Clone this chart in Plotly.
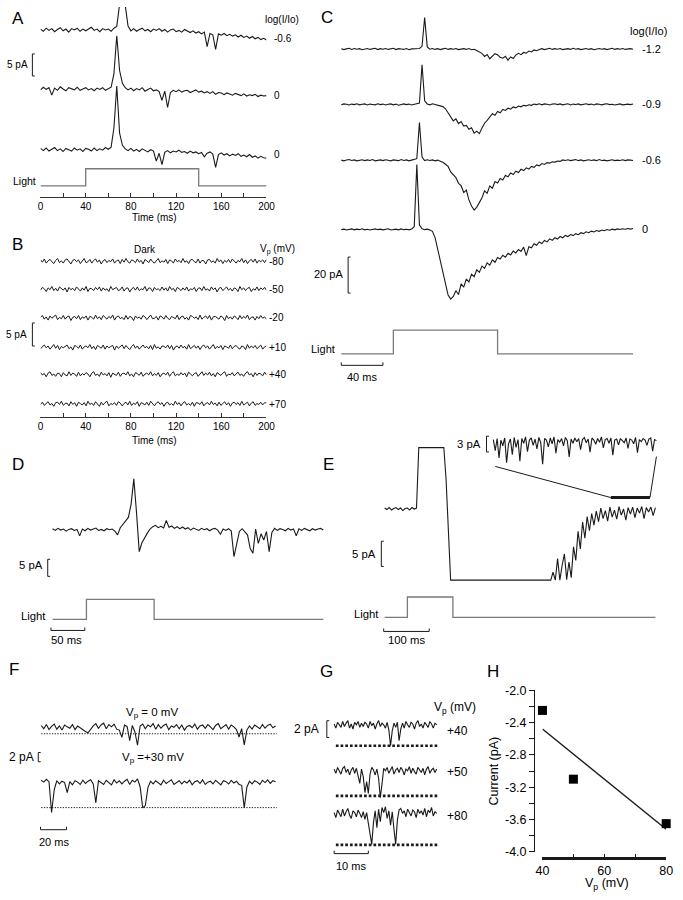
import numpy as np
import plotly.graph_objects as go

# ---- values (currents in pA relative to each sweep's baseline) ----
ab_ticks = [0, 20, 40, 60, 80, 100, 120, 140, 160, 180, 200]
ab_ticktext = ['0', '', '40', '', '80', '', '120', '', '160', '', '200']

a_duration = 200  # ms
a_light_t = [0, 40, 40, 140, 140, 200]
a_light = [0, 0, 1, 1, 0, 0]
a_labels = ['-0.6', '0', '0']
a_sweep1 = [.2,-.3,.4,-.1,.3,-.4,.1,.5,-.2,.2,-.5,.3,0,.4,-.3,.2,-.2,.3,.6,-.1,
            .2,-.4,.3,0,.2,-.3,.4,.8,5.8,6.5,5.6,.9,-.2,.3,-.3,.1,.4,-.2,.1,-.4,
            .2,-.1,.3,-.3,.1,-.5,0,.2,-.4,-.1,-.5,.1,-.3,-.6,-.2,-.7,-.4,-.9,-.5,-3.8,
            -.8,-1.1,-4.4,-.9,-1.2,-.8,-1.3,-1.0,-1.4,-1.1,-1.6,-1.2,-1.7,-1.4,-1.9,-1.5,-2.0,-1.7,-2.2,-1.9,
            -2.3]
a_sweep2 = [-.2,.4,-.1,.3,-1.4,.2,-.3,.5,0,-.4,.3,.1,-.2,.4,-.3,0,.3,-.2,.1,-.4,
            .2,-.1,.3,-.3,.1,.4,3.5,12.1,4.2,1.3,.3,-.2,.2,-.4,.1,-.2,.3,-.5,-.1,.2,
            -.4,-.2,-.6,-2.6,-.5,-4.2,-.8,-.3,-.6,-.2,-.7,-.4,-.3,-.8,-.5,-.2,-.7,-.5,-.9,-.6,
            -1.0,-.6,-1.2,-.8,-.9,-1.3,-.9,-1.1,-1.4,-1.0,-1.3,-1.5,-1.1,-1.6,-1.3,-1.5,-1.2,-1.7,-1.4,-1.6,
            -1.5]
a_sweep3 = [.3,-.2,.4,-.3,.1,.5,-.2,.2,-.4,.3,0,-.3,.4,-.1,.2,-.4,.3,.1,-.3,.4,
            -.2,.2,-.1,.5,.1,.6,5.0,14.5,3.8,1.0,.2,-.2,.3,-.3,.1,-.4,.2,-.1,-.5,0,
            -.3,-2.6,-.8,-3.4,-.6,-.2,-.7,-.3,-.5,-.1,-.6,-.4,-.8,-.3,-.7,-.5,-.9,-.6,-1.6,-.8,
            -.5,-1.0,-4.0,-1.1,-.7,-1.2,-.9,-1.4,-1.0,-1.3,-.9,-1.5,-1.2,-1.6,-1.1,-1.7,-1.4,-1.9,-1.5,-1.8,
            -1.9]

b_duration = 200
b_labels = ['-80', '-50', '-20', '+10', '+40', '+70']
b_sweep1 = [.3,-.2,.5,-.4,.1,.4,-.1,-.5,.2,.6,-.3,.1,-.4,.3,.5,-.2,-.6,.2,.4,-.1,
            .3,-.5,.1,.6,-.3,-.1,.4,-.4,.2,.5,-.2,.3,-.6,.1,.4,-.3,.2,-.1,.5,-.4,
            .1,.3,-.5,.4,-.2,.6,-.1,-.4,.3,.1,-.3,.5,-.2,.2,-.6,.4,.1,-.3,.5,-.1,
            -.4,.2,.6,-.3,.1,-.2,.4,-.5,.3,.1,-.4,.5,-.1,.2,-.3,.6,-.2,.1,-.5,.3,
            .4,-.1,-.3,.5,-.4,.2,.1,-.6,.3,.4,-.2,.1,-.4,.6,-.1,.3,-.5,.2,-.2,.4,
            -.3,.5,.1,-.4,.2,-.1,.6,-.3,.3,-.5,.1,.4,-.2,.5,-.4,.2,-.1,.3,-.3,.4]
b_sweep2 = [-.2,.4,.1,-.5,.3,-.1,.6,-.3,.2,-.4,.5,.1,-.2,.3,-.6,.4,-.1,.2,-.3,.5,
            .1,-.4,.3,-.2,.6,-.5,.2,.1,-.3,.4,-.1,.5,-.4,.3,-.2,.1,-.5,.6,-.1,.2,
            .4,-.3,-.1,.5,-.4,.2,.3,-.6,.1,.4,-.2,.5,-.3,.1,-.1,.6,-.4,.3,.2,-.5,
            .4,-.1,.1,-.3,.5,-.2,.3,-.4,.6,-.1,.2,-.5,.4,.1,-.3,.3,-.2,.5,-.4,.1,
            -.1,.4,-.5,.2,.3,-.3,.6,-.2,.1,-.4,.5,-.1,.3,-.6,.2,.4,-.3,.1,.5,-.2,
            .2,-.4,.3,.1,-.5,.6,-.1,.3,-.3,.2,.4,-.5,.1,-.2,.5,-.3,.3,-.1,.4,-.2]
b_sweep3 = [.1,.5,-.3,.2,-.5,.4,-.1,.3,.6,-.4,.1,-.2,.5,-.3,.2,.4,-.6,.1,.3,-.2,
            .5,-.4,.2,-.1,.4,-.5,.3,.1,-.3,.6,-.2,.2,-.4,.5,.1,-.3,.3,-.1,.6,-.5,
            .2,.4,-.2,.1,-.4,.5,-.3,.3,.1,-.6,.4,-.1,.2,-.3,.5,.2,-.4,.1,.6,-.2,
            -.1,.3,-.5,.4,.2,-.3,.5,-.1,-.4,.3,.1,-.2,.6,-.4,.2,.4,-.3,.1,-.5,.5,
            .3,-.1,.2,-.4,.6,-.3,.1,.4,-.2,.5,-.5,.2,.3,-.1,-.3,.4,.1,-.6,.5,-.2,
            .2,-.3,.4,.1,-.4,.5,-.2,.3,-.1,.6,-.4,.1,.2,-.5,.3,-.2,.5,-.1,.2,-.3]
b_sweep4 = [-.3,.2,.5,-.1,.3,-.4,.1,.6,-.2,.4,-.5,.2,-.1,.3,.5,-.3,.1,-.6,.4,.2,
            -.2,.5,-.4,.1,.3,-.1,.6,-.3,.2,-.5,.4,.1,-.2,.5,-.4,.3,-.1,.2,.4,-.6,
            .3,-.2,.1,.5,-.3,.4,-.1,-.5,.2,.6,-.2,.3,-.4,.1,.5,-.1,.2,-.3,.4,-.5,
            .6,-.2,.1,-.4,.3,.2,-.1,.5,-.3,.4,-.6,.1,.3,-.2,.5,-.1,.2,-.4,.6,-.3,
            .1,.4,-.2,.3,-.5,.2,.5,-.1,.3,-.4,.1,.6,-.3,.2,-.1,.4,-.5,.3,.1,-.2,
            .5,-.3,.2,.4,-.1,-.4,.3,.1,-.5,.6,-.2,.3,-.1,.4,-.3,.2,.5,-.4,.1,.3]
b_sweep5 = [.4,-.1,.2,-.5,.3,.6,-.2,.1,-.4,.3,.2,-.5,.4,-.1,-.3,.6,-.2,.3,.1,-.4,
            .5,-.3,.2,-.1,.4,.1,-.5,.3,.6,-.2,.1,-.4,.5,-.1,.2,-.3,.4,-.6,.3,.1,
            -.2,.5,-.4,.2,.3,-.1,.6,-.3,.1,-.5,.4,.2,-.2,.5,-.4,.1,.3,-.1,.6,-.3,
            .2,-.2,.4,-.5,.1,.3,-.1,.5,-.4,.2,.6,-.3,.1,-.2,.4,-.1,.3,-.5,.5,.1,
            -.3,.2,.4,-.4,.1,.6,-.2,.3,-.1,.5,-.3,.2,-.5,.4,.1,-.2,.3,.6,-.4,.1,
            -.1,.4,-.3,.2,.5,-.2,.1,-.4,.3,.6,-.1,.2,-.5,.4,-.2,.3,.1,-.3,.5,-.1]
b_sweep6 = [-.1,.4,-.3,.2,.5,-.2,.1,-.5,.3,.4,-.1,.6,-.3,.1,.2,-.4,.5,-.1,.3,-.5,
            .4,.1,-.2,.3,-.4,.6,-.1,.2,-.3,.5,.1,-.5,.4,-.2,.3,.6,-.4,.1,-.1,.3,
            -.3,.5,.2,-.4,.1,.4,-.2,.6,-.3,.2,-.1,.5,-.5,.3,.1,-.2,.4,-.3,.6,.1,
            -.4,.2,.5,-.1,.3,-.5,.2,.4,-.2,.1,-.3,.6,-.1,.3,-.4,.2,.5,-.2,.1,-.3,
            .4,-.5,.3,.2,-.1,.5,-.4,.1,.3,-.2,.6,-.1,.2,-.4,.4,-.3,.1,.5,-.2,.3,
            -.5,.2,.4,-.1,.3,-.3,.6,-.2,.1,.4,-.4,.2,.5,-.3,.1,-.1,.4,-.2,.3,.2]

c_duration = 280
c_light_t = [0, 50, 50, 150, 150, 280]
c_light = [0, 0, 1, 1, 0, 0]
c_labels = ['-1.2', '-0.9', '-0.6', '0']
c_sweep1 = [.2,-.3,.1,.4,-.2,.3,-.1,.2,-.4,.1,.3,-.2,0,.4,-.3,.2,-.1,.3,-.2,.1,.4,-.3,.2,0,-.2,.3,-.4,.1,.2,-.1,.3,
            1.5,17.5,1.2,
            -.1,.3,-.2,.2,-.3,.1,.4,-.2,.2,-.1,.3,-.3,.1,.2,-.2,.3,-.4,-.1,
            -.8,-1.5,-2.4,-4.1,-3.0,-5.4,-3.9,-2.6,-3.2,-4.6,-5.1,-4.0,-6.2,-4.4,-5.3,-3.4,-2.4,-3.1,-1.9,-2.3,
            -1.1,-1.6,-.5,-.9,-.2,
            .2,-.3,.1,.4,-.2,.2,-.1,.3,-.3,.1,.2,-.2,.4,-.1,.2,-.3,.1,.3,-.2,.2,-.4,.1,.3,-.1,.2,-.3,.1,.4,-.2,.2,
            -.1,.3,-.2,.1,.2,-.1]
c_sweep2 = [-.2,.3,.1,-.3,.2,-.1,.4,-.2,.1,.3,-.3,.2,0,-.2,.4,-.1,.2,-.3,.1,.3,-.2,.2,-.4,.1,.3,-.1,.2,-.3,.1,.2,
            .8,22,2.0,
            .3,-.2,.4,.1,-.2,
            -.6,-1.2,-2.4,-4.5,-6.8,-9.1,-8.0,-10.6,-9.5,-12.0,-11.6,-13.8,-12.9,-15.9,-14.8,-16.2,-13.1,-10.4,-8.8,
            -7.2,-5.1,-6.0,-3.9,-4.6,-2.8,-3.3,-2.1,-2.6,-1.4,-1.9,-.9,-1.3,-.5,-.8,-.2,-.5,
            .2,-.1,.4,-.2,.3,.1,-.3,.2,.4,-.1,.3,-.2,.1,.4,-.3,.2,0,.3,-.2,.1,.4,-.1,.2,-.3,.3,.1,-.2,.2,.4,-.1,
            .1,-.3,.2,.3,-.2,.1,.2,-.1,.3]
c_sweep3 = [.1,-.3,.2,.4,-.1,.2,-.3,.1,.3,-.2,.2,-.1,.4,-.3,.1,.2,-.2,.3,0,-.3,.2,.1,-.2,.4,-.1,.2,-.3,.1,.3,
            .9,21,1.8,
            -.2,.3,-.1,.2,-.3,.1,
            -.5,-1.1,-2.2,-3.4,-6.5,-8.0,-9.6,-12.8,-14.1,-17.9,-16.5,-22.0,-25.4,-27.6,-26.0,-23.5,-20.8,-17.0,
            -18.3,-14.2,-15.5,-11.8,
            -12.6,-10.1,-10.9,-8.3,-9.2,-7.0,-7.9,-6.1,-6.8,-5.0,-5.7,-4.2,-4.9,-3.4,-3.9,-2.6,-3.1,-1.8,-2.3,-1.3,
            -1.6,-.8,-1.0,-.4,-.6,
            .2,-.1,.3,-.2,.1,.4,-.2,.2,-.3,.1,.3,-.1,.2,-.2,.4,-.1,.1,-.3,.2,.3,-.2,.1,-.1,.3,-.2,.2,.1,-.1]
c_sweep4 = [-.1,.2,-.3,.1,.3,-.2,.2,-.1,.4,-.2,.1,-.3,.2,.3,-.1,.2,-.2,.1,.4,-.3,.1,.2,-.2,.3,-.1,.1,-.2,.3,
            1.5,36,2.5,
            .4,-.1,.2,-.3,-1.0,
            -4.5,-11.2,-17.8,-24.6,-31.0,-36.4,-38.6,-37.2,-34.0,
            -36.1,-30.2,-32.0,-27.5,-29.1,-24.8,-26.2,-22.4,-23.8,-20.3,-21.6,-18.5,-19.8,-16.9,-18.2,-15.6,
            -16.4,-14.3,-15.4,-13.2,
            -14.1,-12.0,-13.0,-11.1,-12.2,-9.8,-14.5,-9.6,-10.2,-7.9,-8.8,-6.9,-7.8,-6.1,-6.9,-5.2,-6.0,-4.6,
            -5.3,-3.9,-4.6,-3.3,-3.9,-2.8,
            -3.4,-2.3,-2.9,-1.8,-2.3,-1.3,-1.8,-.9,-1.4,-.6,-1.0,-.3,-.7,0,-.4,.2,-.2,.3,0,.4,.1,.5,.2,.5]

d_duration = 400
d_light_t = [0, 50, 50, 150, 150, 400]
d_light = [0, 0, 1, 1, 0, 0]
d_sweep = [.3,-.2,.4,-.1,.2,-.4,.1,.3,-.2,.1,-1.8,
           .2,-.3,.4,-.1,.2,.5,-.2,.1,-.3,.3,0,.2,-.4,-1.5,
           .6,1.5,2.7,3.6,7.5,14.9,5.0,-6.4,-3.8,-2.2,-1.0,.2,.9,1.3,.6,1.0,.5,2.7,
           .7,1.1,.4,.9,.3,.8,.2,.6,-.1,.5,.2,-.2,.4,0,.3,-.3,.2,.4,-.1,-1.3,.2,-.2,.3,
           -.4,-7.9,-4.0,-.5,.3,-.6,-1.5,-5.5,-6.9,.2,-4.0,-1.2,-3.0,-.5,-6.4,-.8,
           .4,-.2,.3,.1,-.3,.4,-.1,.2,-1.8,.3,-.2,.4,0,-.3,.3,-.1,.2,.4,-.1]

e_duration = 595
e_light_t = [0, 50, 50, 150, 150, 595]
e_light = [0, 0, 1, 1, 0, 0]
e_sweep = [.2,-.1,.3,-.2,.1,.3,-.1,.2,-.3,.1,.2,-.2,.3,0,.2,
           12.2,12.2,12.2,12.2,12.2,12.2,12.2,12.2,12.2,12.2,12.2,12.2,
           5.9,-4.6,
           -14.1,-14.1,-14.1,-14.1,-14.1,-14.1,-14.1,-14.1,-14.1,-14.1,-14.1,
           -14.1,-14.1,-14.1,-14.1,-14.1,-14.1,-14.1,-14.1,-14.1,-14.1,-14.1,
           -14.1,-14.1,-14.1,-14.1,-14.1,-14.1,-14.1,-14.1,-14.1,-14.1,-14.1,
           -14.1,-14.1,-14.1,-14.1,-14.1,-14.1,-14.1,-14.1,-14.1,-14.1,-14.1,
           -14.1,-12.5,-14.1,-9.8,-14.1,-11.2,-8.9,-14.0,-10.5,-13.6,
           -7.5,-10.2,-4.4,-7.9,-2.6,-5.8,-1.5,-4.3,-.9,-3.2,-.4,-2.5,.2,-1.9,-.3,-2.4,.4,-1.6,-.2,-2.0,
           .5,-1.2,0,-2.2,.3,-1.0,.4,-1.7,.2,-.8,.5,-1.9,.3,-.6,.4,-1.3,.3]
e_zoom_t = [497, 583]  # stretch of the sweep shown enlarged in the inset
e_inset_duration = 86
e_inset = [.3,-1.8,.5,-3.2,.2,-.9,.6,-4.1,-.5,.4,-2.6,.7,-1.2,.3,-3.8,.5,-.4,.8,-2.0,.2,.6,-.8,.4,-1.5,.7,
           -.3,-4.4,.5,.2,-1.1,.6,-.5,.8,-2.3,.3,-.2,.5,-.9,.7,.1,-3.0,.4,-.4,.6,-.1,.5,-1.6,.3,.7,-.3,
           .4,-2.1,.6,.2,-.6,.5,-.2,.8,-1.3,.3,.5,-.4,.6,-2.7,.2,.4,-.7,.5,.1,-.3,.6,-1.4,.4,.2,-.5,
           .7,-2.2,.3,-.1,.5,.2,-.8,.4,.6,-1.9,.3,.1]

f_duration = 180
f_labels = ['V<sub>p</sub> = 0 mV', 'V<sub>p</sub> =+30 mV']
f_open = [-1.4, -5.35]
f_sweep1 = [.4,-.3,.6,-.5,.2,.7,-.4,.3,-.6,.5,.1,-.2,.6,-.5,.3,-.1,-.6,-.9,-1.2,-.4,
            .3,.8,-.2,.5,.9,-.3,.6,.1,.7,-.4,-.6,-2.2,.5,.2,-2.9,.4,-1.0,-3.9,.3,.7,
            -.3,.5,.1,.8,-.4,.6,-.2,.4,.7,-.5,.3,0,.6,-.3,.5,-.6,.2,.4,-.1,.7,
            -.4,.3,.5,-.2,.6,.1,-.5,.4,.8,-.3,.2,.6,-.4,.5,.1,-.5,-2.1,-.3,-3.8,-.6,
            .3,-.4,.5,.1,-.3,.6,-.2,.4,.7,-.1,.3]
f_sweep2 = [.6,.2,.8,.3,-6.4,-1.5,.5,-.2,.4,.1,-2.1,.3,-.4,.5,.2,-.3,.6,-.1,.4,.7,
            -.2,-4.3,.5,.1,-.3,.6,.2,-.4,.7,0,.5,-.2,.4,.8,-.3,.6,.2,.9,-.8,-5.4,
            -4.9,-1.0,.4,-.2,.5,.1,-.4,.6,-.1,.3,.7,-.3,.2,.5,-.2,.4,0,.6,-.4,.3,
            .5,-.1,.7,-.3,.2,.4,-.2,.6,.1,-.4,.5,.3,-.2,.6,0,.4,-.3,-.5,-5.4,-.9,
            .4,-.2,.5,.2,-.3,.6,.1,.7,-.1,.5,.3]

g_duration = 30
g_labels = ['+40', '+50', '+80']
g_open = [-2.4, -2.9, -3.65]
g_sweep1 = [.2,-.3,.4,.1,-.2,.5,-.1,.3,.6,-.3,.2,-.4,.4,.1,.5,-.2,.3,-.1,.4,.2,-.3,.5,0,.3,-.4,.2,.6,-.1,.3,.1,
            -.3,.4,-.5,-2.4,-.6,.3,-.2,.4,-1.8,-.4,
            .3,-.3,.5,.1,-.2,.4,.2,-.4,.3,.6,-.1,.2,-.3,.4,.1,-.2,.5,.2,-.3,.3,.1]
g_sweep2 = [.3,-.2,.5,.1,-.3,.4,.6,-.1,.3,-.4,.2,.5,-.2,.4,-.5,
            -1.4,.3,-.6,-2.5,-1.2,-2.6,-.3,.5,.2,-.4,.3,-.8,-3.1,-1.5,.4,
            .1,.5,-.2,.3,.6,-.3,.2,.4,-.1,.5,.2,-.4,.3,.1,.6,-.2,.4,0,-.3,.5,.2,-.1,.4,-.4,.3,.6,-.2,.2,.4,-.1,.3]
g_sweep3 = [.2,-.4,.5,.1,-.3,.6,-.2,.3,.7,-.1,-.5,.4,.2,-.3,.5,.1,-.4,.3,-.6,.2,
            -1.1,-2.2,-3.6,-1.0,.4,-1.6,.6,-.9,.8,.2,.9,-.5,.4,-1.3,.3,-1.8,-3.6,-.7,.5,
            .7,.1,.4,-.3,.6,.2,-.2,.5,.3,-.4,.6,.1,.4,-.1,.7,-.3,.5,.2,.8,-.2,.3,.1]

h_vp = [40, 50, 80]
h_current = [-2.25, -3.1, -3.65]
h_fit_vp = [40, 80]
h_fit_current = [-2.48, -3.72]
h_xticks = [40, 50, 60, 70, 80]
h_xticktext = ['40', '', '60', '', '80']
h_yticks = [-4.0, -3.8, -3.6, -3.4, -3.2, -3.0, -2.8, -2.6, -2.4, -2.2, -2.0]
h_yticktext = ['-4.0', '', '-3.6', '', '-3.2', '', '-2.8', '', '-2.4', '', '-2.0']

# scale bars: (pA, ms)
a_bar_pa = 5
b_bar_pa = 5
c_bar_pa, c_bar_ms = 20, 40
d_bar_pa, d_bar_ms = 5, 50
e_bar_pa, e_bar_ms = 5, 100
e_inset_bar_pa = 3
f_bar_pa, f_bar_ms = 2, 20
g_bar_pa, g_bar_ms = 2, 10

# ---- drawing ----
W, H = 683, 900
INK = '#1a1a1a'
GREY = '#7a7a7a'
FONT = 'Liberation Sans, Arial, sans-serif'
TRACE_W = 1.1

fig = go.Figure()
n_axes = [0]


class Ax:
    """Invisible axis pair placed by pixel box; x0/y0 = pixel of value 0, xs/ys = px per unit."""

    def __init__(self, box, x0, xs, y0, ys):
        n_axes[0] += 1
        k = '' if n_axes[0] == 1 else str(n_axes[0])
        self.xname, self.yname = 'xaxis' + k, 'yaxis' + k
        self.xref, self.yref = 'x' + k, 'y' + k
        self.x0, self.xs, self.y0, self.ys = x0, xs, y0, ys
        l, t, r, b = box
        fig.update_layout({
            self.xname: dict(domain=[l / W, r / W], range=[(l - x0) / xs, (r - x0) / xs],
                             anchor=self.yref, visible=False, fixedrange=True),
            self.yname: dict(domain=[1 - b / H, 1 - t / H], range=[(y0 - b) / ys, (y0 - t) / ys],
                             anchor=self.xref, visible=False, fixedrange=True),
        })

    def lv(self, row):
        return (self.y0 - row) / self.ys

    def tc(self, col):
        return (col - self.x0) / self.xs

    def col(self, t):
        return self.x0 + t * self.xs

    def line(self, x, y, color=INK, width=1, dash=None):
        fig.add_trace(go.Scatter(x=x, y=y, mode='lines', xaxis=self.xref, yaxis=self.yref,
                                 line=dict(color=color, width=width, dash=dash),
                                 hoverinfo='skip', showlegend=False))

    def sweep(self, values, duration, row, width=TRACE_W):
        t = np.linspace(0, duration, len(values))
        self.line(t, self.lv(row) + np.asarray(values), width=width)

    def vbar(self, col, top, amount):
        x, s = self.tc(col), 2.5 / self.xs
        y1 = self.lv(top)
        self.line([x + s, x, x, x + s], [y1, y1, y1 - amount, y1 - amount])

    def hbar(self, col, row, amount):
        x, y, s = self.tc(col), self.lv(row), 3 / self.ys
        self.line([x, x, x + amount, x + amount], [y + s, y, y, y + s])

    def step(self, t, on, row, height):
        self.line(t, self.lv(row) + np.asarray(on) * height / self.ys, color=GREY, width=1.3)


def label(text, x, y, size=10, xanchor='center', angle=0):
    fig.add_annotation(text=text, x=x / W, y=1 - y / H, xref='paper', yref='paper', showarrow=False,
                       xanchor=xanchor, yanchor='middle', textangle=angle,
                       font=dict(size=size, color='black', family=FONT))


time_axis = dict(visible=True, showline=True, linecolor='#333', linewidth=1, ticks='inside', ticklen=4,
                 tickcolor='#333', tickvals=ab_ticks, ticktext=ab_ticktext, tickfont=dict(size=10),
                 showgrid=False, zeroline=False)

# A
A = Ax((34.3, 0, 265.7, 193), 34.3, 1.157, 193, 4.47)
fig.update_layout({A.xname: time_axis})
for s, row, lab, lrow in zip([a_sweep1, a_sweep2, a_sweep3], [23.3, 83.3, 145], a_labels, [32, 90, 150]):
    A.sweep(s, a_duration, row)
    label(lab, 271, lrow, 10, 'left')
A.step(a_light_t, a_light, 181.7, 17.4)
A_sb = Ax((0, 0, 34.3, 193), 34.3, 1.157, 193, 4.47)
A_sb.vbar(26, 47.7, a_bar_pa)
label('A', 11.7, 11.5, 17)
label('log(I/Io)', 262, 13, 10, 'left')
label('5 pA', 23.5, 58.3, 10, 'right')
label('Light', 32, 176.7, 10.5, 'right')
label('Time (ms)', 150.7, 214.3, 10)

# B
B = Ax((34.3, 230, 265.7, 416.7), 34.3, 1.157, 416.7, 4.67)
fig.update_layout({B.xname: time_axis})
b_rows = [258.3, 286.7, 315.7, 345.7, 373.3, 403.3]
for s, row, lab in zip([b_sweep1, b_sweep2, b_sweep3, b_sweep4, b_sweep5, b_sweep6], b_rows, b_labels):
    B.sweep(s, b_duration, row, width=1)
    label(lab, 266, row, 10, 'left')
B_sb = Ax((0, 230, 34.3, 416.7), 34.3, 1.157, 416.7, 4.67)
B_sb.vbar(26, 321, b_bar_pa)
label('B', 10.7, 241.7, 17)
label('Dark', 141, 246.7, 10)
label('V<sub>p</sub> (mV)', 257, 246.7, 10, 'left')
label('5 pA', 22.5, 332.7, 10, 'right')
label('Time (ms)', 150.7, 440, 10)

# C
C = Ax((325, 0, 683, 372), 342.3, 1.067, 372, 1.83)
for s, row, lab in zip([c_sweep1, c_sweep2, c_sweep3, c_sweep4], [42.7, 99, 155.7, 226], c_labels):
    C.sweep(s, c_duration, row)
    label(lab, 648, row, 11, 'left')
C.step(c_light_t, c_light, 352.3, 24)
C.vbar(349.3, 254, c_bar_pa)
C.hbar(342.3, 364, c_bar_ms)
label('C', 328, 11, 17)
label('log(I/Io)', 656.7, 24, 11)
label('20 pA', 346.5, 271.7, 11, 'right')
label('Light', 338, 347, 11, 'right')
label('40 ms', 363.5, 376, 11)

# D
D = Ax((35, 455, 335, 640), 46.7, 0.693, 640, 3.47)
D.sweep(d_sweep, d_duration, 531)
D.step(d_light_t, d_light, 622, 20.3)
D.vbar(41.7, 561, d_bar_pa)
D.hbar(45, 633.3, d_bar_ms)
label('D', 11.7, 465, 17)
label('5 pA', 38.5, 566.7, 11.3, 'right')
label('Light', 41.7, 618.3, 11.3, 'right')
label('50 ms', 60.5, 643.3, 11.3)

# E
E = Ax((378, 445, 683, 640), 386.7, 0.466, 640, 5.12)
E.sweep(e_sweep, e_duration, 510)
E.step(e_light_t, e_light, 620, 20.7)
E.vbar(383.3, 542.7, e_bar_pa)
E.hbar(385.7, 634.3, e_bar_ms)
E.line(e_zoom_t, [E.lv(498.3)] * 2, width=3)
EI = Ax((484, 428, 668, 470), 498, 1.942, 441, 5.33)
EI.sweep(e_inset, e_inset_duration, 441)
EI.vbar(491, 436, e_inset_bar_pa)
for x0, y0, t in [(500, 466.7, e_zoom_t[0]), (665, 456.7, e_zoom_t[1])]:
    fig.add_shape(type='line', xref='paper', yref='paper', x0=x0 / W, y0=1 - y0 / H,
                  x1=E.col(t) / W, y1=1 - 498.3 / H, line=dict(color=INK, width=1))
label('E', 329, 465, 17)
label('3 pA', 487, 444, 11.3, 'right')
label('5 pA', 379.5, 555.5, 11.3, 'right')
label('Light', 382.5, 616.7, 11.3, 'right')
label('100 ms', 409, 643.3, 11.3)

# F
F = Ax((0, 695, 290, 845), 35, 1.333, 845, 4.67)
for s, row, op in zip([f_sweep1, f_sweep2], [731.7, 788.3], f_open):
    F.sweep(s, f_duration, row)
    F.line([0, f_duration + 1], [F.lv(row) + op] * 2, width=1, dash='1.3px,1.4px')
F.vbar(32, 757.3, f_bar_pa)
F.hbar(34.3, 835.7, f_bar_ms)
label('F', 7, 673, 17)
label(f_labels[0], 148, 716.7, 11.5)
label(f_labels[1], 150, 763.3, 11.5)
label('2 pA', 30, 761.7, 12, 'right')
label('20 ms', 48, 848, 11)

# G
G = Ax((322, 700, 447, 870), 335, 3.5, 870, 8.5)
for s, row, op, lab, lrow in zip([g_sweep1, g_sweep2, g_sweep3], [730, 776.7, 820], g_open, g_labels,
                                 [735, 777, 821.7]):
    G.sweep(s, g_duration, row)
    G.line([0.5, g_duration + 0.5], [G.lv(row) + op] * 2, width=2.7, dash='2.7px,2px')
    label(lab, 448, lrow, 12, 'left')
G.vbar(327.5, 725, g_bar_pa)
G.hbar(335, 860, g_bar_ms)
label('G', 327, 675, 17)
label('V<sub>p</sub> (mV)', 435, 711.7, 12, 'left')
label('2 pA', 322, 733, 12, 'right')
label('10 ms', 352, 873, 11)

# H
fig.update_layout(
    xaxis11=dict(domain=[548.3 / W, 675 / W], range=[40, 80], anchor='free', position=1 - 864.3 / H,
                 showline=True, linecolor=INK, linewidth=2.7, ticks='inside', ticklen=3, tickcolor=INK,
                 tickvals=h_xticks, ticktext=h_xticktext, tickfont=dict(size=12.5),
                 showgrid=False, zeroline=False, fixedrange=True),
    yaxis11=dict(domain=[1 - 858.3 / H, 1 - 694 / H], range=[-4.0, -2.0], anchor='free', position=539.3 / W,
                 showline=True, linecolor=INK, linewidth=1.3, ticks='outside', ticklen=4.5, tickcolor=INK,
                 tickvals=h_yticks, ticktext=h_yticktext, tickfont=dict(size=12.5),
                 showgrid=False, zeroline=False, fixedrange=True),
)
fig.add_trace(go.Scatter(x=h_fit_vp, y=h_fit_current, mode='lines', xaxis='x11', yaxis='y11',
                         line=dict(color=INK, width=1.4), hoverinfo='skip', showlegend=False))
fig.add_trace(go.Scatter(x=h_vp, y=h_current, mode='markers', xaxis='x11', yaxis='y11', cliponaxis=False,
                         marker=dict(symbol='square', size=9, color='black'),
                         hoverinfo='skip', showlegend=False))
label('H', 498, 675, 17)
label('Current (pA)', 498.3, 776, 12.5, angle=-90)
label('V<sub>p</sub> (mV)', 614, 891, 12.5)

fig.update_layout(width=W, height=H, margin=dict(l=0, r=0, t=0, b=0), showlegend=False,
                  paper_bgcolor='white', plot_bgcolor='rgba(0,0,0,0)',
                  font=dict(family=FONT, color='black'))

# the page's default body margin would push the 683x900 figure off the window
fig.write_html("out.html", config={'displayModeBar': False},
               post_script="document.body.style.margin = '0';")
